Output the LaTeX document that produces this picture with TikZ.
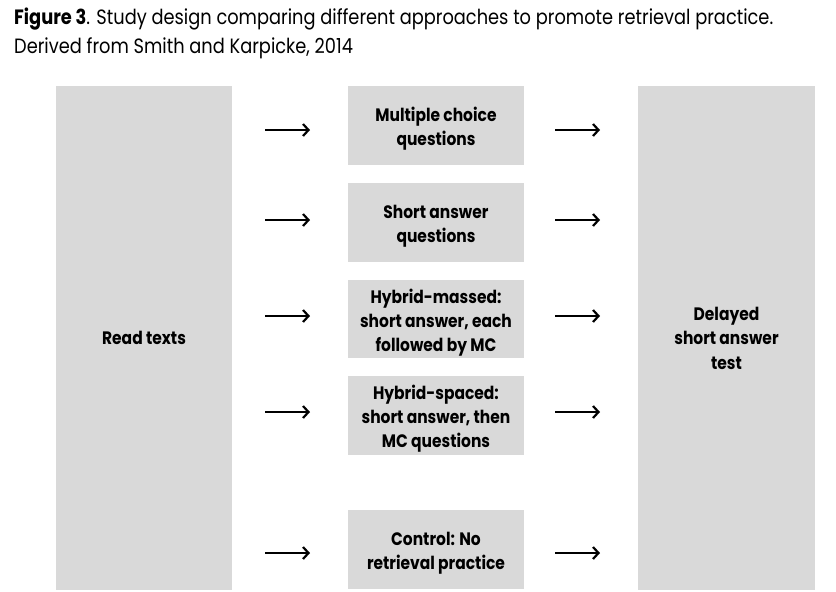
\documentclass[tikz,border=0pt]{standalone}
\usepackage{fontspec}
\usetikzlibrary{arrows.meta}
\setmainfont{Poppins}[FakeStretch=0.86]
\definecolor{boxgrey}{HTML}{D9D9D9}
\tikzset{
  greybox/.style={fill=boxgrey, draw=none, inner sep=0pt, align=center, font=\bfseries\fontsize{18}{24.5}\selectfont},
  boxtext/.style={inner sep=0pt, align=center, yshift=-3.5pt, font=\bfseries\fontsize{18}{24}\selectfont},
  arr/.style={-{Straight Barb[length=5.5pt,width=12pt]}, line width=2.2pt, black},
  captext/.style={anchor=west, inner sep=0pt, font=\fontsize{20.7}{29}\selectfont}
}
\begin{document}
\begin{tikzpicture}[x=1pt,y=-1pt]
\useasboundingbox (0,0) rectangle (836,592);
\node[captext] (c1) at (14,19) {\textbf{Figure 3}. Study design comparing different approaches to promote retrieval practice.};
\node[captext] (c2) at (14,48) {Derived from Smith and Karpicke, 2014};
\node[greybox, minimum width=176pt, minimum height=504pt] (read) at (144,338) {Read texts};
\node[greybox, minimum width=177pt, minimum height=504pt] (test) at (726.5,338) {Delayed\\short answer\\test};
\node[greybox, minimum width=176pt, minimum height=79pt, label={[boxtext]center:{Multiple choice\\questions}}] (b1) at (436,125.5) {};
\node[greybox, minimum width=176pt, minimum height=79pt, label={[boxtext]center:{Short answer\\questions}}] (b2) at (436,222.5) {};
\node[greybox, minimum width=176pt, minimum height=78pt, label={[boxtext]center:{Hybrid-massed:\\short answer, each\\followed by MC}}] (b3) at (436,319) {};
\node[greybox, minimum width=176pt, minimum height=79pt, label={[boxtext]center:{Hybrid-spaced:\\short answer, then\\MC questions}}] (b4) at (436,415.5) {};
\node[greybox, minimum width=176pt, minimum height=79pt, label={[boxtext]center:{Control: No\\retrieval practice}}] (b5) at (436,549.5) {};
\foreach \n/\y in {1/130,2/220,3/316,4/412,5/553}{
  \coordinate (l\n a) at (265,\y);
  \coordinate (l\n b) at (310,\y);
  \coordinate (r\n a) at (555,\y);
  \coordinate (r\n b) at (600,\y);
  \draw[arr] (l\n a) -- (l\n b);
  \draw[arr] (r\n a) -- (r\n b);
}
\end{tikzpicture}
\end{document}
